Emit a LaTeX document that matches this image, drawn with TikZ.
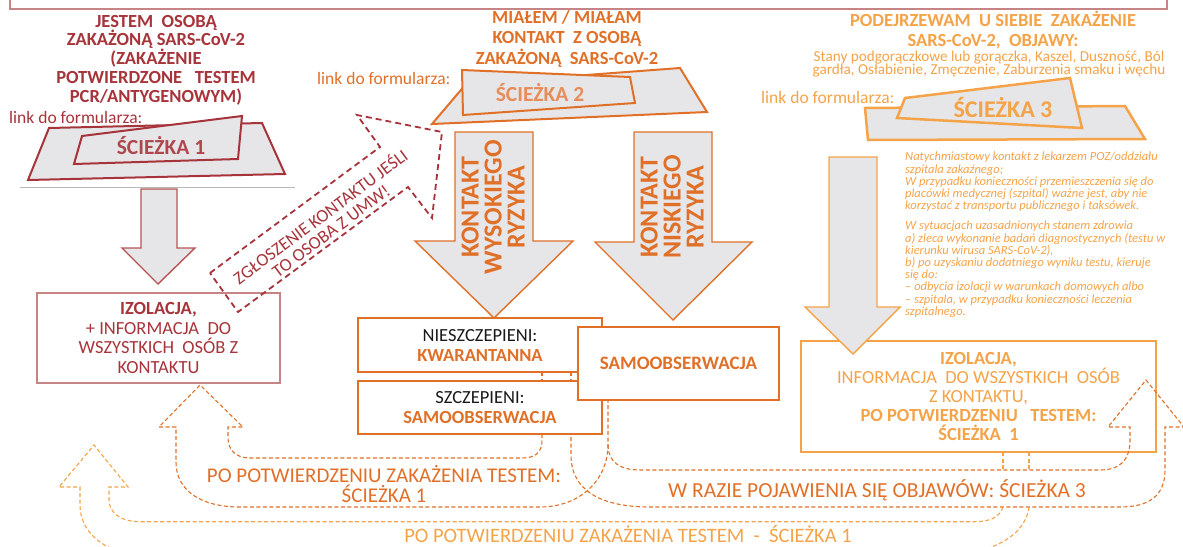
\documentclass[tikz,border=0pt]{standalone}
\usepackage{fontspec}
\setmainfont{Carlito}
\newcommand{\myfs}[2]{\fontsize{#1}{#2}\selectfont}
\definecolor{rd}{RGB}{166,52,58}
\definecolor{rdl}{RGB}{198,132,134}
\definecolor{rdb}{RGB}{184,84,86}
\definecolor{orr}{RGB}{224,112,40}
\definecolor{orl}{RGB}{232,140,90}
\definecolor{yo}{RGB}{245,163,72}
\definecolor{gf}{RGB}{230,230,232}
\definecolor{gl}{RGB}{185,185,185}
\definecolor{tb}{RGB}{25,25,25}
\begin{document}
\begin{tikzpicture}[x=1pt,y=-1pt,
  every node/.style={inner sep=0pt},
  ds/.style={dash pattern=on 4pt off 2.5pt, line width=1.1pt},
  badge/.style={line width=2pt, fill=gf, line join=miter},
  barr/.style={line width=1.4pt, fill=gf},
  bx/.style={draw, line width=1.6pt, fill=white, align=center},
  ttl/.style={font=\bfseries\myfs{18.5}{18.7}, align=center},
  lnk/.style={font=\myfs{17.5}{18}},
  bdt/.style={font=\bfseries\myfs{21.5}{22}},
  kt/.style={text=orr, font=\bfseries\myfs{26}{23}, align=center}]
\useasboundingbox (0,0) rectangle (1183,546);
\clip (0,0) rectangle (1183,546);

% top frame
\draw[rdl, line width=1.2pt] (10,-5) -- (10,9) -- (1167,9) -- (1167,-5);

% ---------- path 1 ----------
\node[ttl, text=rd] (h1) at (156,60) {JESTEM\ \ OSOBĄ\\ZAKAŻONĄ SARS-CoV-2\\(ZAKAŻENIE\\POTWIERDZONE\ \ \ TESTEM\\PCR/ANTYGENOWYM)};
\node[lnk, text=rd, anchor=west] (l1) at (9,117) {link do formularza:};
\draw[rd, badge] (49,128) -- (262,123) -- (285,174) -- (28,180) -- cycle;
\draw[rd, badge] (82,136) -- (242,116) -- (238,159) -- (74,164) -- cycle;
\node[bdt, text=rd!90] (s1) at (161,146) {ŚCIEŻKA 1};
\draw[gl, line width=0.8pt] (20,187) -- (295,187);
\draw[rdb, barr] (141,189) -- (177,189) -- (177,248) -- (195,248) -- (158,284) -- (122,248) -- (141,248) -- cycle;
\node[bx, draw=rdl, minimum width=243pt, minimum height=90pt, text=rd, font=\myfs{18.5}{19.7}] (iz1) at (158.5,338) {\textbf{IZOLACJA,}\\+ INFORMACJA\ \ DO\\WSZYSTKICH\ \ OSÓB Z\\KONTAKTU};

% callout
\draw[rd, line width=1.8pt, dash pattern=on 6pt off 4pt] (210,273) -- (380,147) -- (357,115) -- (442,132) -- (432,218) -- (408,187) -- (238,312) -- cycle;
\node[rotate=36.7, text=rd, font=\myfs{18}{17.5}, align=center] (zg) at (325,223) {ZGŁOSZENIE KONTAKTU JEŚLI\\TO OSOBA Z UMW!};

% ---------- path 2 ----------
\node[ttl, text=orr, font=\bfseries\myfs{18.5}{20.5}] (h2) at (567,39) {MIAŁEM / MIAŁAM\\KONTAKT\ \ Z OSOBĄ\\ZAKAŻONĄ\ \ SARS-CoV-2};
\node[lnk, text=orr, anchor=west] (l2) at (317,78) {link do formularza:};
\draw[orr, badge] (432,124) -- (466,84) -- (680,68) -- (707,112) -- cycle;
\draw[orr, badge] (462,70) -- (630,77) -- (635,103) -- (463,115) -- cycle;
\node[bdt, text=orl] (s2) at (540,93) {ŚCIEŻKA 2};

\draw[orr, barr] (455,132) -- (533,132) -- (533,241) -- (573,241) -- (494,318) -- (415,241) -- (455,241) -- cycle;
\node[rotate=90, kt] (k1) at (493,207) {KONTAKT\\WYSOKIEGO\\RYZYKA};
\draw[orr, barr] (634,132) -- (712,132) -- (712,242) -- (752,242) -- (673,320) -- (595,242) -- (634,242) -- cycle;
\node[rotate=90, kt] (k2) at (672,207) {KONTAKT\\NISKIEGO\\RYZYKA};

% dashed connectors between the left boxes
\draw[orr, ds] (542,372) -- (542,381);
\draw[orr, ds] (571,372) -- (571,381);

\node[bx, draw=orr, minimum width=244pt, minimum height=54pt, font=\myfs{18.5}{20}] (nsz) at (480,345) {\textcolor{tb}{NIESZCZEPIENI:}\\\textcolor{orr}{\textbf{KWARANTANNA}}};
\node[bx, draw=orr, minimum width=244pt, minimum height=53pt, font=\myfs{18.5}{20}] (sz) at (480,407.5) {\textcolor{tb}{SZCZEPIENI:}\\\textcolor{orr}{\textbf{SAMOOBSERWACJA}}};
\node[bx, draw=orr, minimum width=201pt, minimum height=73pt, text=orr, font=\bfseries\myfs{19}{20}] (samo) at (678.5,363.5) {SAMOOBSERWACJA};

% ---------- path 3 ----------
\node[ttl, text=yo, font=\bfseries\myfs{18.5}{20}] (h3) at (993,30) {PODEJRZEWAM\ \ U SIEBIE\ \ ZAKAŻENIE\\SARS-CoV-2,\ \ OBJAWY:};
\node[text=yo, font=\myfs{15.2}{13.3}, align=center] (sym) at (989,64) {Stany podgorączkowe lub gorączka, Kaszel, Duszność, Ból\\gardła, Osłabienie, Zmęczenie, Zaburzenia smaku i węchu};
\node[lnk, text=yo, anchor=west] (l3) at (761,97) {link do formularza:};
\draw[yo, badge, line width=2.5pt] (865,108) -- (1125,106) -- (1145,139) -- (868,140) -- cycle;
\draw[yo, badge, line width=2.5pt] (905,98) -- (1070,78) -- (1082,128) -- (897,118) -- cycle;
\node[text=yo, font=\bfseries\myfs{24}{26}] (s3) at (1003,108) {ŚCIEŻKA 3};

\node[bx, draw=yo, minimum width=355pt, minimum height=111pt, text=yo, font=\myfs{18.5}{19}] (iz3) at (978.5,396.5) {\textbf{IZOLACJA,}\\INFORMACJA\ \ DO WSZYSTKICH\ \ OSÓB\\Z KONTAKTU,\\\textbf{PO POTWIERDZENIU\ \ \ TESTEM:}\\\textbf{ŚCIEŻKA\ \ 1}};
\draw[yo, barr] (829,157) -- (877,157) -- (877,307) -- (900,307) -- (853,354) -- (805,307) -- (829,307) -- cycle;

\node[anchor=north west, text=yo, font=\itshape\myfs{12.5}{12.2}, align=left] (it3) at (905,152) {Natychmiastowy kontakt z lekarzem POZ/oddziału\\szpitala zakaźnego;\\W przypadku konieczności przemieszczenia się do\\placówki medycznej (szpital) ważne jest, aby nie\\korzystać z transportu publicznego i taksówek.\\[8pt]W sytuacjach uzasadnionych stanem zdrowia\\a) zleca wykonanie badań diagnostycznych (testu w\\kierunku wirusa SARS-CoV-2),\\b) po uzyskaniu dodatniego wyniku testu, kieruje\\się do:\\– odbycia izolacji w warunkach domowych albo\\– szpitala, w przypadku konieczności leczenia\\szpitalnego.};

% ---------- bottom dashed arrows ----------
\draw[orr, ds] (542,434) -- (542,440) .. controls (542,452) and (536,458) .. (522,458) -- (250,458) .. controls (236,458) and (228,450) .. (228,438) -- (228,427) -- (243,427) -- (200,385) -- (159,427) -- (176,427) -- (176,462) .. controls (176,490) and (200,507) .. (240,507) -- (540,507) .. controls (580,507) and (608,480) .. (608,445) -- (608,400);
\draw[orr, ds] (608,445) .. controls (608,462) and (620,470) .. (640,470) -- (1100,470) .. controls (1120,470) and (1130,460) .. (1130,440) -- (1130,427) -- (1108,427) -- (1146,380) -- (1184,427) -- (1165,427) -- (1165,470) .. controls (1165,495) and (1150,507) .. (1120,507) -- (650,507) .. controls (600,507) and (571,490) .. (571,455) -- (571,434);

\draw[yo, ds] (1003,452) -- (1003,470);
\draw[yo, ds] (1029,452) -- (1029,470);
\draw[yo, ds] (1003,507) .. controls (1000,517) and (990,521.7) .. (975,521.7) -- (140,521.7) .. controls (120,521.7) and (109,512) .. (109,500) -- (109,487) -- (128,487) -- (94,445) -- (59,487) -- (80,487) -- (80,505) .. controls (80,530) and (100,548) .. (130,555);
\draw[yo, ds] (1029,507) .. controls (1026,530) and (1005,545) .. (975,552);

\node[text=orr, font=\myfs{21}{20}, align=center] (t1) at (384,484) {PO POTWIERDZENIU ZAKAŻENIA TESTEM:\\ŚCIEŻKA 1};
\node[text=orr, font=\myfs{21.5}{20}] (t2) at (877,490) {W RAZIE POJAWIENIA SIĘ OBJAWÓW: ŚCIEŻKA 3};
\node[text=yo, font=\myfs{20.5}{20}] (t3) at (628,534) {PO POTWIERDZENIU ZAKAŻENIA TESTEM\ \ -\ \ ŚCIEŻKA 1};
\end{tikzpicture}
\end{document}
